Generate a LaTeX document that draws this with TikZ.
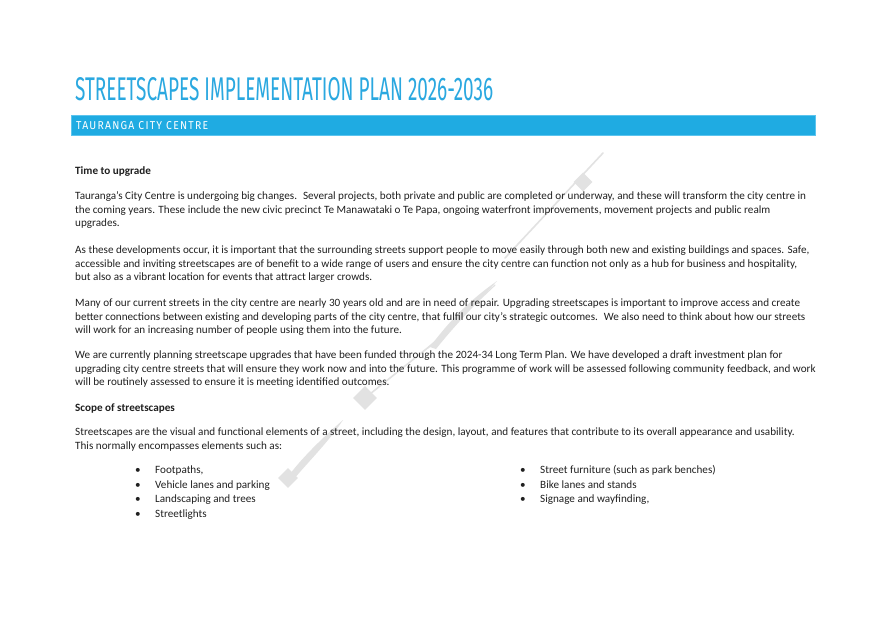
\documentclass[tikz,border=0pt]{standalone}
\usepackage{fontspec}
\setmainfont{Carlito}
\newfontfamily\titlefont{Fira Sans}
\newfontfamily\bannerfont[LetterSpace=12]{Fira Sans}
\usetikzlibrary{shapes.geometric}
\definecolor{tblue}{HTML}{2AA8E0}
\definecolor{bannerblue}{HTML}{1FABE2}
\definecolor{banneredge}{HTML}{5CC4EE}
\definecolor{bodytext}{HTML}{202020}
\definecolor{wm}{HTML}{E2E2E2}
\tikzset{
  bodyline/.style={anchor=base west, inner sep=0pt, text=bodytext, font=\fontsize{11.15}{13}\selectfont},
  headline/.style={bodyline, font=\fontsize{11.15}{13}\selectfont\bfseries},
  bul/.style={anchor=base, inner sep=0pt, text=bodytext, font=\fontsize{11.15}{13}\selectfont},
  wmline/.style={draw=wm, line width=1.6pt, line cap=round},
  wmdiamond/.style={diamond, fill=wm, inner sep=0pt, minimum size=#1},
}
\begin{document}
\begin{tikzpicture}[x=1pt,y=-1pt]
\useasboundingbox (0,0) rectangle (885,626);
\fill[white] (0,0) rectangle (885,626);

% watermark
\draw[wmline] (603,153) -- (505,258);
\node[wmdiamond=19pt] (d1) at (583,182) {};
\fill[wm] (497,281) .. controls (470,300) and (450,320) .. (430,347) -- (436,349) .. controls (455,325) and (475,305) .. (497,281) -- cycle;
\draw[wmline, line width=1.2pt] (495,285) -- (428,348);
\draw[wmline] (440,338) -- (365,398);
\node[wmdiamond=24pt] (d2) at (365,398) {};
\fill[wm] (343,420) .. controls (320,440) and (300,460) .. (287,478) -- (293,480) .. controls (310,460) and (330,440) .. (343,420) -- cycle;
\node[wmdiamond=20pt] (d3) at (288,478) {};

% title
\node[anchor=south west, inner sep=0pt, text=tblue] (title) at (75,101)
  {\resizebox{418pt}{23pt}{\titlefont STREETSCAPES IMPLEMENTATION PLAN 2026-2036}};

% banner
\node[anchor=north west, inner sep=0pt, minimum width=744pt, minimum height=20pt,
      fill=bannerblue, draw=banneredge, line width=0.8pt] (banner) at (71,115) {};
\node[anchor=south west, inner sep=0pt, text=white] (bannertext) at (76,129.5)
  {\resizebox{132pt}{8pt}{\bannerfont TAURANGA CITY CENTRE}};

% body
\node[headline] (h1) at (75,174.5) {Time to upgrade};
\node[bodyline] (p1a) at (75,199.5) {Tauranga’s City Centre is undergoing big changes.~ Several projects, both private and public are completed or underway, and these will transform the city centre in};
\node[bodyline] (p1b) at (75,213) {the coming years. These include the new civic precinct Te Manawataki o Te Papa, ongoing waterfront improvements, movement projects and public realm};
\node[bodyline] (p1c) at (75,226.5) {upgrades.};

\node[bodyline] (p2a) at (75,253.5) {As these developments occur, it is important that the surrounding streets support people to move easily through both new and existing buildings and spaces. Safe,};
\node[bodyline] (p2b) at (75,267) {accessible and inviting streetscapes are of benefit to a wide range of users and ensure the city centre can function not only as a hub for business and hospitality,};
\node[bodyline] (p2c) at (75,280.5) {but also as a vibrant location for events that attract larger crowds.};

\node[bodyline] (p3a) at (75,306.5) {Many of our current streets in the city centre are nearly 30 years old and are in need of repair. Upgrading streetscapes is important to improve access and create};
\node[bodyline] (p3b) at (75,320) {better connections between existing and developing parts of the city centre, that fulfil our city’s strategic outcomes.~ We also need to think about how our streets};
\node[bodyline] (p3c) at (75,333.5) {will work for an increasing number of people using them into the future.};

\node[bodyline] (p4a) at (75,358.5) {We are currently planning streetscape upgrades that have been funded through the 2024-34 Long Term Plan. We have developed a draft investment plan for};
\node[bodyline] (p4b) at (75,372) {upgrading city centre streets that will ensure they work now and into the future. This programme of work will be assessed following community feedback, and work};
\node[bodyline] (p4c) at (75,385.5) {will be routinely assessed to ensure it is meeting identified outcomes.};

\node[headline] (h2) at (75,411) {Scope of streetscapes};
\node[bodyline] (p5a) at (75,435.5) {Streetscapes are the visual and functional elements of a street, including the design, layout, and features that contribute to its overall appearance and usability.};
\node[bodyline] (p5b) at (75,449) {This normally encompasses elements such as:};

% bullets left
\node[bul] (bl1) at (138,473.5) {•};
\node[bodyline] (tl1) at (155,473.5) {Footpaths,};
\node[bul] (bl2) at (138,488) {•};
\node[bodyline] (tl2) at (155,488) {Vehicle lanes and parking};
\node[bul] (bl3) at (138,502.5) {•};
\node[bodyline] (tl3) at (155,502.5) {Landscaping and trees};
\node[bul] (bl4) at (138,517) {•};
\node[bodyline] (tl4) at (155,517) {Streetlights};

% bullets right
\node[bul] (br1) at (523,473.5) {•};
\node[bodyline] (tr1) at (540,473.5) {Street furniture (such as park benches)};
\node[bul] (br2) at (523,488) {•};
\node[bodyline] (tr2) at (540,488) {Bike lanes and stands};
\node[bul] (br3) at (523,502.5) {•};
\node[bodyline] (tr3) at (540,502.5) {Signage and wayfinding,};
\end{tikzpicture}
\end{document}
